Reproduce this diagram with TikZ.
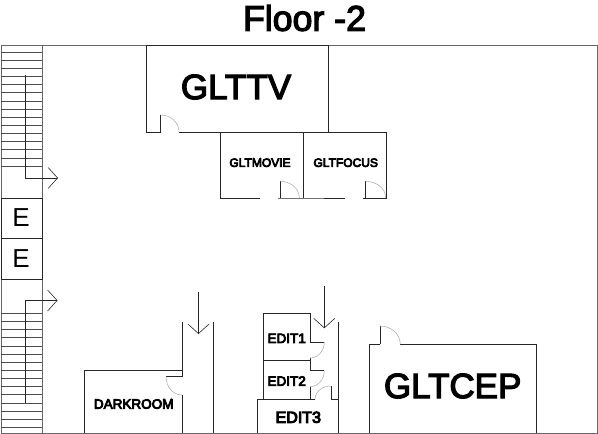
\documentclass[tikz,border=0pt]{standalone}
\usepackage{fontspec}
\setmainfont{Liberation Sans}
\newfontfamily\fatfont[FakeBold=6]{Liberation Sans}
\newfontfamily\halffatfont[FakeBold=3.5]{Liberation Sans}
\usetikzlibrary{arrows.meta}

\begin{document}
\begin{tikzpicture}[
  x=1pt, y=-1pt,
  wall/.style={draw=black!85, line width=0.75pt},
  outer wall/.style={draw=black!60, line width=0.9pt},
  step line/.style={draw=black!70, line width=0.75pt},
  door/.style={draw=black!35, line width=0.5pt},
  way/.style={draw=black!85, line width=0.6pt, -{Straight Barb[length=9.5pt,width=21pt]}},
  bigroom/.style={font=\halffatfont\fontsize{35}{35}\selectfont, inner sep=0pt},
  smallroom/.style={font=\fatfont\fontsize{12}{12}\selectfont, inner sep=0pt},
  midroom/.style={font=\fatfont\fontsize{13.5}{13.5}\selectfont, inner sep=0pt},
  lift/.style={font=\fontsize{26}{26}\selectfont, inner sep=0pt}
]
\useasboundingbox (0,0) rectangle (598,434);

\node[font=\halffatfont\fontsize{35.7}{36}\selectfont, inner sep=0pt] (title) at (304.5,18) {Floor -2};

% Outer walls
\draw[outer wall] (1,45) rectangle (597,433);
\draw[outer wall] (42,45) -- (42,433);

%% STAIRS
\foreach \s in {0,...,14} {
  \draw[step line] (1,52+8.15*\s) -- (42,52+8.15*\s);
  \draw[step line] (1,313.3+8.15*\s) -- (42,313.3+8.15*\s);
}
\coordinate (up_a) at (25.5,75);
\coordinate (up_b) at (25.5,178);
\coordinate (up_c) at (58,178);
\draw[way] (up_a) -- (up_b) -- (up_c);
\coordinate (lo_a) at (25.5,403);
\coordinate (lo_b) at (25.5,300.5);
\coordinate (lo_c) at (57.5,300.5);
\draw[way] (lo_a) -- (lo_b) -- (lo_c);

%% LIFTS
\draw[wall] (1,198) rectangle (42,238);
\draw[wall] (1,238) rectangle (42,279);
\node[lift] (lift1) at (21,218) {E};
\node[lift] (lift2) at (21,259) {E};

%% GLTTV
\draw[wall] (160.7,132) -- (160.7,115);
\draw[wall] (160.7,132) -- (146.5,132) -- (146.5,45) -- (328,45) -- (328,132) -- (179,132);
\draw[door] (160.7,115) to[out=0,in=90] (179,132);
\node[bigroom] (glttv) at (236,87) {GLTTV};

%% GLTMOVIE, GLTFOCUS
\draw[wall] (260,198) -- (220.5,198) -- (220.5,132) -- (386.7,132) -- (386.7,198) -- (363,198);
\draw[wall] (303.5,132) -- (303.5,198);
\draw[wall] (278.3,198) -- (303.5,198) -- (345,198);
\draw[wall] (280.3,198) -- (280.3,181.3);
\draw[door] (280.3,181.3) to[out=0,in=90] (299.3,198);
\draw[wall] (365.7,198) -- (365.7,181.3);
\draw[door] (365.7,181.3) to[out=0,in=90] (385.7,198);
\node[smallroom] (gltmovie) at (260,162.7) {GLTMOVIE};
\node[smallroom] (gltfocus) at (345.7,162.7) {GLTFOCUS};

%% DARKROOM
\draw[wall] (182,395) -- (182,433);
\draw[wall] (84.5,433) -- (84.5,370.7) -- (182,370.7) -- (182,376.7) -- (166,376.7);
\draw[wall] (182,322) -- (182,370.7);
\draw[wall] (213.5,322) -- (213.5,433);
\draw[door] (166,376.7) to[out=-90,in=180] (182,395);
\node[midroom] (darkroom) at (133.7,404) {DARKROOM};
\coordinate (dark_in) at (198.5,292);
\coordinate (dark_to) at (198.5,334);
\draw[way] (dark_in) -- (dark_to);

%% EDIT ROOMS
\draw[wall] (310,358) -- (310,360.7) -- (263.3,360.7);
\draw[wall] (324.3,342) -- (310,342) -- (310,313.3) -- (263.3,313.3) -- (263.3,399.3);
\draw[door] (324.3,342) to[out=-90,in=0] (310,358);
\draw[wall] (310,360.7) -- (310,370.7) -- (324.3,370.7);
\draw[door] (324.3,370.7) to[out=-90,in=0] (310,386.7);
\draw[wall] (310,386.7) -- (310,399.3);
\draw[wall] (315,399.3) -- (257.3,399.3) -- (257.3,433);
\draw[wall] (338,433) -- (338,322.3);
\draw[wall] (338,399.3) -- (331,399.3) -- (331,386);
\draw[door] (331,386) to[out=180,in=90] (315,399.3);
\node[midroom] (edit1) at (286.7,338.3) {EDIT1};
\node[midroom] (edit2) at (286.7,381) {EDIT2};
\node[font=\fatfont\fontsize{16}{16}\selectfont, inner sep=0pt] (edit3) at (298.3,417.3) {EDIT3};
\coordinate (edit_in) at (324.3,286);
\coordinate (edit_to) at (324.3,328.3);
\draw[way] (edit_in) -- (edit_to);

%% GLTCEP
\draw[wall] (380,344.3) -- (369.3,344.3) -- (369.3,433);
\draw[wall] (380,344.3) -- (380,326);
\draw[wall] (400.3,344.3) -- (536.3,344.3) -- (536.3,433);
\draw[door] (380,326) to[out=0,in=90] (400.3,344.3);
\node[bigroom] (gltcep) at (452.7,386) {GLTCEP};

\end{tikzpicture}
\end{document}
